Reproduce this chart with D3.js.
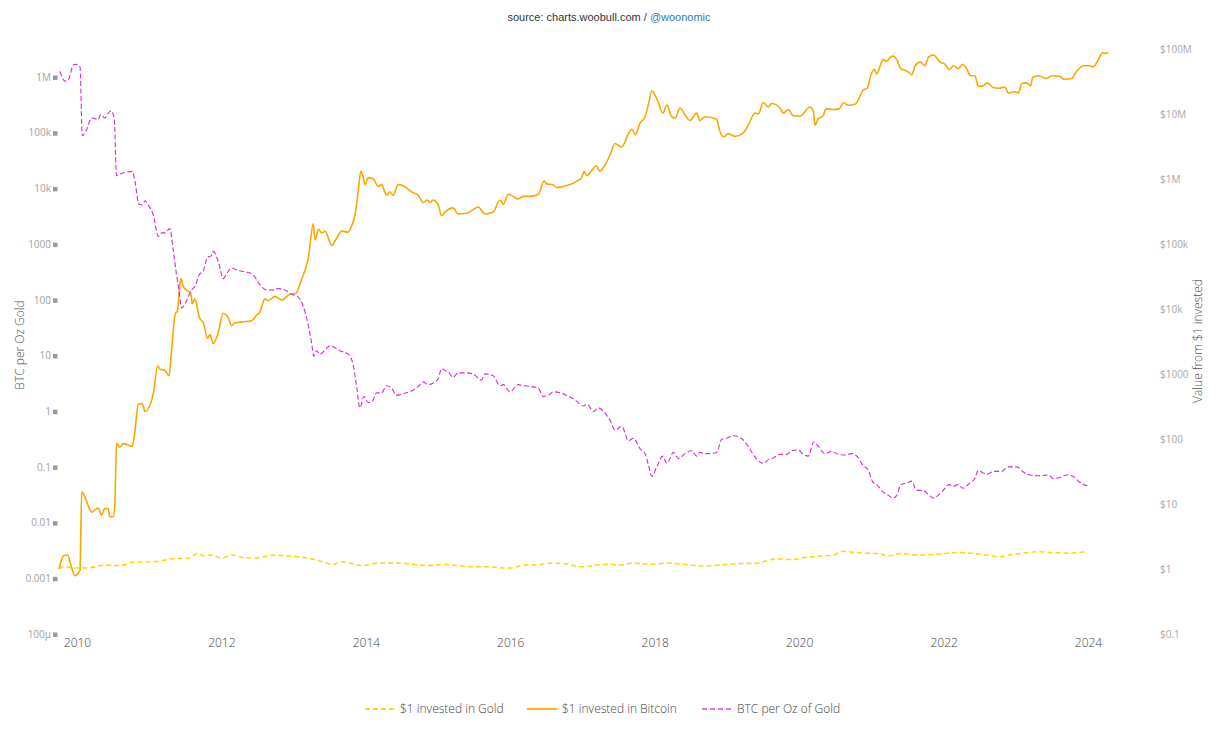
<!DOCTYPE html>
<html>
<head>
<meta charset="utf-8">
<script src="https://cdn.jsdelivr.net/npm/d3@7"></script>
<style>
  body { margin: 0; background: #fff; }
  svg { display: block; }
</style>
</head>
<body>
<div id="chart"></div>
<script>
// data
var gold_dates = ['2009-10-02','2009-10-24','2009-12-21','2010-02-27','2010-05-22','2010-08-06','2010-10-21','2010-12-27',
    '2011-03-05','2011-05-11','2011-07-17','2011-09-05','2011-10-09','2011-11-12','2012-01-02','2012-02-22','2012-04-12',
    '2012-06-18','2012-09-28','2012-12-04','2013-02-10','2013-04-17','2013-05-21','2013-07-19','2013-08-31','2013-10-12',
    '2013-12-18','2014-02-24','2014-06-05','2014-08-28','2014-11-21','2015-01-27','2015-04-04','2015-06-27','2015-09-20',
    '2015-11-27','2016-01-08','2016-03-07','2016-05-14','2016-07-20','2016-09-26','2017-01-05','2017-03-14','2017-05-20',
    '2017-07-09','2017-09-15','2017-12-08','2018-03-03','2018-05-26','2018-09-03','2018-11-26','2019-03-08','2019-05-15',
    '2019-07-21','2019-09-10','2019-12-02','2020-02-09','2020-04-16','2020-06-22','2020-08-12','2020-11-04','2021-02-14',
    '2021-03-20','2021-05-26','2021-08-19','2021-11-27','2022-03-08','2022-05-30','2022-08-06','2022-10-04','2022-12-19',
    '2023-02-08','2023-04-16','2023-07-09','2023-10-02','2023-12-25']
var gold_values = [1.0,1.08,1.04,1.04,1.15,1.13,1.28,1.28,
    1.34,1.45,1.47,1.73,1.58,1.64,1.47,1.64,1.52,
    1.47,1.64,1.58,1.52,1.40,1.31,1.18,1.31,1.23,
    1.13,1.23,1.23,1.18,1.13,1.18,1.13,1.08,1.08,
    1.04,1.04,1.15,1.15,1.23,1.21,1.08,1.15,1.18,
    1.15,1.23,1.18,1.23,1.18,1.11,1.15,1.21,1.21,
    1.34,1.43,1.40,1.52,1.58,1.64,1.87,1.77,1.73,
    1.58,1.73,1.64,1.68,1.79,1.73,1.64,1.54,1.68,
    1.75,1.84,1.79,1.75,1.87]

var btc_dates = ['2009-10-02','2009-10-24','2009-11-15','2009-12-01','2009-12-21','2010-01-16','2010-01-25','2010-02-10',
    '2010-03-16','2010-04-18','2010-05-05','2010-05-22','2010-06-08','2010-06-16','2010-07-03','2010-07-11','2010-07-20',
    '2010-08-06','2010-08-23','2010-10-07','2010-10-21','2010-11-07','2010-11-27','2010-12-11','2011-01-22','2011-02-13',
    '2011-02-25','2011-03-22','2011-04-12','2011-04-24','2011-05-14','2011-05-24','2011-05-31','2011-06-10','2011-06-22',
    '2011-07-09','2011-07-31','2011-08-07','2011-08-20','2011-09-14','2011-10-01','2011-10-23','2011-11-04','2011-11-21',
    '2011-12-16','2012-01-10','2012-02-05','2012-02-22','2012-03-09','2012-04-12','2012-06-02','2012-06-27','2012-07-14',
    '2012-08-08','2012-08-25','2012-09-28','2012-11-01','2012-12-13','2013-01-11','2013-02-10','2013-03-16','2013-04-10',
    '2013-04-19','2013-05-06','2013-05-23','2013-06-09','2013-07-12','2013-08-06','2013-08-31','2013-10-04','2013-10-21',
    '2013-11-07','2013-11-24','2013-12-06','2013-12-16','2013-12-28','2014-01-13','2014-02-07','2014-03-04','2014-03-21',
    '2014-04-16','2014-05-02','2014-05-19','2014-06-13','2014-07-09','2014-08-20','2014-09-23','2014-10-18','2014-11-07',
    '2014-11-21','2014-12-08','2015-01-02','2015-01-19','2015-02-05','2015-03-18','2015-04-12','2015-05-25','2015-06-27',
    '2015-07-23','2015-08-26','2015-10-07','2015-11-10','2015-11-27','2015-12-22','2016-01-16','2016-02-10','2016-03-07',
    '2016-04-10','2016-05-22','2016-06-20','2016-07-04','2016-08-03','2016-08-23','2016-09-26','2016-10-30','2016-12-03',
    '2016-12-28','2017-01-09','2017-01-23','2017-02-17','2017-03-10','2017-03-30','2017-04-24','2017-05-20','2017-06-14',
    '2017-07-18','2017-08-21','2017-09-07','2017-09-24','2017-10-19','2017-11-13','2017-11-30','2017-12-17','2018-01-03',
    '2018-01-19','2018-02-11','2018-03-03','2018-03-28','2018-04-14','2018-05-09','2018-06-03','2018-06-28','2018-08-01',
    '2018-08-17','2018-09-12','2018-11-10','2018-11-26','2018-12-16','2019-01-08','2019-02-11','2019-03-25','2019-04-19',
    '2019-05-23','2019-06-09','2019-07-04','2019-07-29','2019-08-15','2019-09-26','2019-10-13','2019-11-07','2019-12-02',
    '2020-01-06','2020-02-25','2020-03-13','2020-03-21','2020-04-07','2020-05-02','2020-05-16','2020-06-22','2020-07-23',
    '2020-08-12','2020-09-06','2020-10-10','2020-11-21','2020-12-11','2020-12-28','2021-01-14','2021-01-28','2021-02-14',
    '2021-02-28','2021-03-20','2021-04-06','2021-04-22','2021-05-09','2021-05-29','2021-06-20','2021-07-07','2021-07-24',
    '2021-08-10','2021-09-04','2021-09-29','2021-10-16','2021-11-10','2021-12-14','2022-01-08','2022-01-30','2022-02-19',
    '2022-03-16','2022-04-07','2022-04-27','2022-05-17','2022-06-08','2022-06-25','2022-07-20','2022-08-09','2022-09-09',
    '2022-10-09','2022-11-07','2022-11-24','2022-12-28','2023-01-14','2023-01-31','2023-02-25','2023-03-17','2023-03-27',
    '2023-04-25','2023-06-06','2023-07-01','2023-08-12','2023-09-01','2023-10-10','2023-11-04','2023-12-08','2024-01-08',
    '2024-01-28','2024-02-22','2024-03-15','2024-03-27','2024-04-13']
var btc_values = [1.0,1.58,1.64,1.15,0.79,0.95,15.4,12.8,
    7.5,8.7,6.8,8.5,8.5,6.4,6.4,9.3,87,
    75,85,77,132,342,351,266,499,1343,
    1180,1135,942,2282,8610,9190,15240,29370,22280,
    19590,17260,12110,14290,7120,6280,3550,4040,2935,
    4290,8610,7300,5530,6110,6280,6610,8090,8960,
    14290,13430,15630,13750,16830,17260,28640,61100,203700,
    115300,168300,148200,157800,95100,122800,157800,152500,191300,
    279300,677500,1310000,1120000,820000,1050000,1010000,769000,820000,
    560000,635000,560000,820000,789000,635000,560000,435000,475000,
    435000,475000,398000,272000,310000,359000,290000,298000,338000,
    370000,290000,310000,475000,408000,582000,540000,494000,540000,
    540000,582000,929000,841000,820000,740000,769000,820000,929000,
    1050000,1310000,1120000,1360000,1600000,1310000,1640000,2340000,3510000,
    3100000,4990000,5820000,4820000,7290000,9060000,14100000,22800000,19300000,
    15000000,10300000,13700000,9060000,8710000,12400000,9660000,7970000,10300000,
    7970000,9060000,8280000,5460000,4420000,4990000,4520000,5120000,6780000,
    10300000,10000000,15000000,12800000,14500000,12400000,10300000,11700000,9420000,
    9300000,12800000,11000000,6780000,8490000,9420000,12100000,11700000,12100000,
    15000000,13600000,14100000,23400000,24900000,38800000,48700000,41400000,55300000,
    68700000,64400000,75000000,77800000,68700000,49900000,46900000,44100000,40400000,
    55300000,62800000,55300000,75000000,80900000,62800000,58200000,48200000,55300000,
    49900000,58200000,49900000,38800000,38800000,26600000,27100000,30100000,25600000,
    24900000,26000000,21100000,22000000,21100000,29400000,30100000,27100000,36500000,
    38800000,35100000,38800000,37900000,34200000,35100000,45200000,55300000,55300000,
    53200000,68700000,88300000,85000000,88300000]

var ratio_dates = ['2009-10-07','2009-11-01','2009-11-18','2009-12-13','2009-12-25','2010-01-16','2010-01-28','2010-02-19',
    '2010-03-16','2010-04-18','2010-05-01','2010-05-22','2010-06-08','2010-06-22','2010-07-08','2010-07-20','2010-08-06',
    '2010-09-09','2010-10-07','2010-10-21','2010-11-10','2010-11-27','2010-12-11','2010-12-31','2011-01-22','2011-02-16',
    '2011-03-05','2011-03-22','2011-04-16','2011-05-03','2011-05-20','2011-05-31','2011-06-14','2011-07-09','2011-08-03',
    '2011-08-20','2011-09-14','2011-10-01','2011-10-23','2011-11-09','2011-11-21','2011-12-19','2012-01-10','2012-01-27',
    '2012-02-22','2012-03-26','2012-05-08','2012-06-10','2012-07-14','2012-08-17','2012-09-11','2012-10-15','2012-11-18',
    '2012-12-22','2013-01-24','2013-02-18','2013-03-16','2013-04-02','2013-04-12','2013-04-27','2013-05-14','2013-06-09',
    '2013-07-04','2013-08-22','2013-10-04','2013-10-29','2013-11-15','2013-12-02','2013-12-22','2014-01-13','2014-02-04',
    '2014-02-24','2014-03-21','2014-04-16','2014-05-11','2014-06-05','2014-07-09','2014-08-12','2014-09-23','2014-10-18',
    '2014-11-13','2014-12-08','2015-01-02','2015-01-19','2015-02-05','2015-02-22','2015-03-18','2015-04-12','2015-05-25',
    '2015-06-27','2015-08-09','2015-08-26','2015-10-07','2015-11-10','2015-11-27','2015-12-31','2016-02-10','2016-03-07',
    '2016-04-10','2016-05-22','2016-06-16','2016-07-12','2016-08-06','2016-09-09','2016-10-13','2016-11-24','2017-01-05',
    '2017-01-23','2017-02-25','2017-03-22','2017-04-16','2017-05-20','2017-06-14','2017-07-18','2017-08-21','2017-09-15',
    '2017-10-19','2017-11-13','2017-11-30','2017-12-17','2018-01-11','2018-02-11','2018-03-03','2018-04-06','2018-05-01',
    '2018-06-03','2018-07-07','2018-08-01','2018-08-17','2018-09-21','2018-11-10','2018-12-05','2018-12-31','2019-02-03',
    '2019-03-25','2019-04-19','2019-05-23','2019-07-04','2019-07-29','2019-08-23','2019-09-26','2019-10-30','2019-11-24',
    '2019-12-28','2020-01-22','2020-02-16','2020-03-16','2020-04-07','2020-05-11','2020-06-14','2020-07-18','2020-08-21',
    '2020-09-24','2020-10-19','2020-11-21','2020-12-17','2021-01-08','2021-01-28','2021-02-28','2021-03-28','2021-04-19',
    '2021-05-09','2021-05-29','2021-06-28','2021-07-24','2021-08-15','2021-09-21','2021-10-16','2021-11-10','2021-12-23',
    '2022-01-30','2022-02-19','2022-03-11','2022-04-10','2022-05-14','2022-06-08','2022-06-25','2022-07-20','2022-08-14',
    '2022-09-09','2022-10-21','2022-11-24','2023-01-06','2023-02-08','2023-03-14','2023-04-25','2023-06-15','2023-07-10',
    '2023-08-12','2023-09-16','2023-10-19','2023-11-13','2023-12-08','2023-12-29']
var ratio_values = [1260000,844000,883000,1640000,1690000,1520000,88300,115000,
    184000,174000,214000,184000,224000,248000,184000,16900,18200,
    19600,20200,13500,5190,5040,6010,4810,3330,1374,
    1590,1590,1897,762,271,150,71.6,96.4,150,
    174,292,324,584,609,739,454,240,292,
    374,337,314,279,188,150,150,159,150,
    126,112,77.1,34.3,16.4,9.75,12.2,10.5,12.6,
    15,12.2,10.5,6.75,2.79,1.15,1.84,1.43,1.54,
    2.13,2.13,2.87,2.59,1.92,2.07,2.23,2.79,3.33,
    3.0,3.22,3.85,5.82,5.4,5.04,4.03,4.87,4.87,
    4.67,3.63,4.67,4.34,2.87,3.0,2.23,3.0,2.87,
    2.79,2.59,1.84,1.92,2.23,2.13,1.92,1.59,1.24,
    1.33,0.99,1.15,0.99,0.684,0.459,0.533,0.295,0.327,
    0.21,0.173,0.108,0.0675,0.1,0.156,0.116,0.182,0.141,
    0.173,0.195,0.156,0.182,0.173,0.182,0.313,0.327,0.363,
    0.304,0.233,0.15,0.116,0.135,0.145,0.168,0.168,0.195,
    0.201,0.168,0.156,0.283,0.233,0.173,0.19,0.168,0.164,
    0.173,0.156,0.105,0.0865,0.0533,0.0481,0.0357,0.0308,0.0277,
    0.0308,0.0481,0.0516,0.0556,0.0385,0.0374,0.0322,0.0277,0.0357,
    0.0481,0.0447,0.0481,0.0415,0.0516,0.0617,0.0865,0.078,0.0748,
    0.083,0.083,0.1,0.1,0.0807,0.0716,0.0695,0.0716,0.0617,
    0.0646,0.0716,0.0675,0.0556,0.0481,0.0459]

var left_ticks = [1e-4, 1e-3, 1e-2, 0.1, 1, 10, 100, 1000, 1e4, 1e5, 1e6]
var left_labels = ['100µ', '0.001', '0.01', '0.1', '1', '10', '100', '1000', '10k', '100k', '1M']
var right_ticks = [0.1, 1, 10, 100, 1000, 1e4, 1e5, 1e6, 1e7, 1e8]
var right_labels = ['$0.1', '$1', '$10', '$100', '$1000', '$10k', '$100k', '$1M', '$10M', '$100M']
var year_ticks = ['2010', '2012', '2014', '2016', '2018', '2020', '2022', '2024']

var series = [
    { name: '$1 invested in Gold', dates: gold_dates, values: gold_values, axis: 'right', color: '#ffd700', width: 1.5, dash: '5,3' },
    { name: '$1 invested in Bitcoin', dates: btc_dates, values: btc_values, axis: 'right', color: '#ffa500', width: 1.6, dash: null },
    { name: 'BTC per Oz of Gold', dates: ratio_dates, values: ratio_values, axis: 'left', color: '#d22bd2', width: 1.1, dash: '5,2.5' }
]

var chart_width = 1225;
var chart_height = 729;
var parse = d3.timeParse('%Y-%m-%d');
var font = '"Open Sans", "Noto Sans", sans-serif';

var svg = d3.select('#chart')
    .append('svg')
    .attr('width', chart_width)
    .attr('height', chart_height)

svg.append('rect').attr('width', chart_width).attr('height', chart_height).attr('fill', '#fff')

// scales
var x_scale = d3.scaleTime()
    .domain([parse('2010-01-01'), parse('2024-01-01')])
    .range([77, 1088])

var y_left = d3.scaleLog()
    .domain([1e-4, 1e6])
    .range([634, 77])

var y_right = d3.scaleLog()
    .domain([0.1, 1e8])
    .range([634, 49])

// title
var title = svg.append('text')
    .attr('x', 609)
    .attr('y', 21)
    .attr('text-anchor', 'middle')
    .style('font-family', 'Arial, "Liberation Sans", sans-serif')
    .style('font-size', '11px')
    .attr('fill', '#333')
title.append('tspan').text('source: charts.woobull.com / ')
title.append('tspan').attr('fill', '#337ab7').text('@woonomic')

// x axis
var x_axis = d3.axisBottom(x_scale)
    .tickValues(year_ticks.map(function (y) { return parse(y + '-01-01') }))
    .tickFormat(d3.timeFormat('%Y'))
    .tickSize(0)
    .tickPadding(0)

var gx = svg.append('g')
    .attr('transform', 'translate(0, 638)')
    .call(x_axis)
gx.select('.domain').remove()
gx.selectAll('text')
    .attr('dy', '0.71em')
    .style('font-family', font)
    .style('font-size', '12px')
    .style('font-weight', 300)
    .attr('fill', '#444')

// left axis
var left_axis = d3.axisLeft(y_left)
    .tickValues(left_ticks)
    .tickFormat(function (d, i) { return left_labels[i] })
    .tickSize(0)
    .tickPadding(7)

var gl = svg.append('g')
    .attr('transform', 'translate(58, 0)')
    .call(left_axis)
gl.select('.domain').remove()
gl.selectAll('text')
    .style('font-family', font)
    .style('font-size', '10px')
    .attr('fill', '#a0a0a0')
gl.selectAll('.tick').append('rect')
    .attr('x', -5)
    .attr('y', -2)
    .attr('width', 4.5)
    .attr('height', 4.5)
    .attr('fill', '#999')

// right axis
var right_axis = d3.axisRight(y_right)
    .tickValues(right_ticks)
    .tickFormat(function (d, i) { return right_labels[i] })
    .tickSize(0)
    .tickPadding(0)

var gr = svg.append('g')
    .attr('transform', 'translate(1160, 0)')
    .call(right_axis)
gr.select('.domain').remove()
gr.selectAll('text')
    .style('font-family', font)
    .style('font-size', '10px')
    .attr('fill', '#a8a8a8')

// axis titles
svg.append('text')
    .attr('transform', 'translate(24, 345) rotate(-90)')
    .attr('text-anchor', 'middle')
    .style('font-family', font)
    .style('font-size', '12px')
    .style('font-weight', 300)
    .attr('fill', '#555')
    .text('BTC per Oz Gold')

svg.append('text')
    .attr('transform', 'translate(1202, 341) rotate(-90)')
    .attr('text-anchor', 'middle')
    .style('font-family', font)
    .style('font-size', '12px')
    .style('font-weight', 300)
    .attr('fill', '#555')
    .text('Value from $1 invested')

// lines
series.forEach(function (s) {
    var y_scale = s.axis === 'left' ? y_left : y_right
    var points = s.dates.map(function (d, i) { return { date: parse(d), value: s.values[i] } })
    var line = d3.line()
        .x(function (d) { return x_scale(d.date) })
        .y(function (d) { return y_scale(d.value) })
        .curve(d3.curveMonotoneX)
    svg.append('path')
        .datum(points)
        .attr('d', line)
        .attr('fill', 'none')
        .attr('stroke', s.color)
        .attr('stroke-width', s.width)
        .attr('stroke-dasharray', s.dash)
        .attr('stroke-linejoin', 'round')
})

// legend
var legend_x = [365, 527, 702]
var legend = svg.selectAll('.legend')
    .data(series)
    .enter()
    .append('g')
    .attr('class', 'legend')
    .attr('transform', function (d, i) { return 'translate(' + legend_x[i] + ', 709)' })

legend.append('line')
    .attr('x1', 0)
    .attr('x2', 30)
    .attr('stroke', function (d) { return d.color })
    .attr('stroke-width', 2)
    .attr('stroke-dasharray', function (d) { return d.dash ? '5,3' : null })
    .attr('opacity', function (d) { return d.axis === 'left' ? 0.65 : 0.9 })

legend.append('text')
    .attr('x', 35)
    .attr('y', 4)
    .style('font-family', font)
    .style('font-size', '12px')
    .style('font-weight', 300)
    .attr('fill', '#444')
    .text(function (d) { return d.name })
</script>
</body>
</html>
